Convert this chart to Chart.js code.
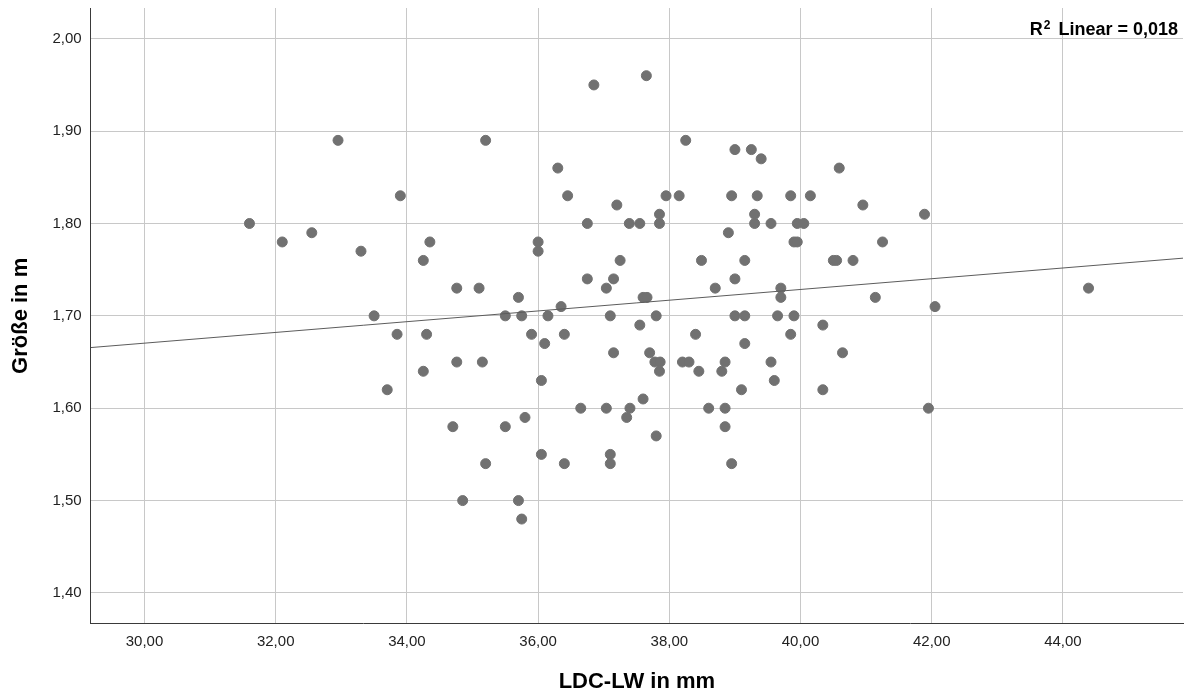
<!DOCTYPE html>
<html lang="de">
<head>
<meta charset="UTF-8">
<title>LDC-LW und Größe</title>
<script src="https://cdn.jsdelivr.net/npm/chart.js"></script>
<style>
  html, body { margin: 0; padding: 0; background: #fff; }
  canvas { display: block; }
</style>
</head>
<body>
<canvas id="scatter" width="1189" height="697"></canvas>
<script>
// LDC-LW (mm) and body height (m), one entry per subject
const ldcLw = [
  37.65,
  36.85,
  32.95, 35.20, 38.25,
  39.00, 39.25,
  39.40,
  36.30, 40.59,
  33.90, 36.45, 37.95, 38.15, 38.95, 39.34, 39.85, 40.15,
  37.20, 40.95,
  37.85, 39.30, 41.89,
  31.60, 36.75, 37.39, 37.55, 37.85, 39.30, 39.55, 39.95, 40.05,
  32.55, 38.90,
  32.10, 34.35, 36.00, 39.90, 39.95, 41.25,
  33.30, 36.00,
  34.25, 37.25, 38.49, 39.15, 40.50, 40.55, 40.80,
  36.75, 37.15, 39.00,
  34.76, 35.10, 37.04, 38.70, 39.70, 44.39,
  35.70, 37.60, 37.66, 39.70, 41.14,
  36.35, 42.05,
  33.50, 35.50, 35.75, 36.15, 37.10, 37.80, 39.00, 39.15, 39.65, 39.90,
  37.55, 40.34,
  33.85, 34.30, 35.90, 36.40, 38.40, 39.85,
  36.10, 39.15,
  37.15, 37.70, 40.64,
  34.76, 35.15, 37.78, 37.86, 38.20, 38.30, 38.85, 39.55,
  34.25, 37.85, 38.45, 38.80,
  36.05, 39.60,
  33.70, 39.10, 40.34,
  37.60,
  36.65, 37.04, 37.40, 38.60, 38.85, 41.95,
  35.80, 37.35,
  34.70, 35.50, 38.85,
  37.80,
  36.05, 37.10,
  35.20, 36.40, 37.10, 38.95,
  34.85, 35.70,
  35.75
];
const groesse = [
  1.96,
  1.95,
  1.89, 1.89, 1.89,
  1.88, 1.88,
  1.87,
  1.86, 1.86,
  1.83, 1.83, 1.83, 1.83, 1.83, 1.83, 1.83, 1.83,
  1.82, 1.82,
  1.81, 1.81, 1.81,
  1.80, 1.80, 1.80, 1.80, 1.80, 1.80, 1.80, 1.80, 1.80,
  1.79, 1.79,
  1.78, 1.78, 1.78, 1.78, 1.78, 1.78,
  1.77, 1.77,
  1.76, 1.76, 1.76, 1.76, 1.76, 1.76, 1.76,
  1.74, 1.74, 1.74,
  1.73, 1.73, 1.73, 1.73, 1.73, 1.73,
  1.72, 1.72, 1.72, 1.72, 1.72,
  1.71, 1.71,
  1.70, 1.70, 1.70, 1.70, 1.70, 1.70, 1.70, 1.70, 1.70, 1.70,
  1.69, 1.69,
  1.68, 1.68, 1.68, 1.68, 1.68, 1.68,
  1.67, 1.67,
  1.66, 1.66, 1.66,
  1.65, 1.65, 1.65, 1.65, 1.65, 1.65, 1.65, 1.65,
  1.64, 1.64, 1.64, 1.64,
  1.63, 1.63,
  1.62, 1.62, 1.62,
  1.61,
  1.60, 1.60, 1.60, 1.60, 1.60, 1.60,
  1.59, 1.59,
  1.58, 1.58, 1.58,
  1.57,
  1.55, 1.55,
  1.54, 1.54, 1.54, 1.54,
  1.50, 1.50,
  1.48
];

const xTicks = [30, 32, 34, 36, 38, 40, 42, 44];
const yTicks = [1.4, 1.5, 1.6, 1.7, 1.8, 1.9, 2.0];
const xRange = [29.18, 45.83];
const yRange = [1.3667, 2.0333];

// linear fit y = a + b*x
const fitIntercept = 1.496;
const fitSlope = 0.005814;
const rSquared = 0.018;

const fontFamily = "'Liberation Sans', Arial, sans-serif";
Chart.defaults.font.family = fontFamily;

const fmt = v => v.toFixed(2).replace('.', ',');

const points = ldcLw.map((x, i) => ({ x: x, y: groesse[i] }));
const fitLine = xRange.map(x => ({ x: x, y: fitIntercept + fitSlope * x }));

// "R² Linear = ..." in the top right corner of the plot
const r2Label = {
  id: 'r2Label',
  afterDraw(chart) {
    const { ctx, chartArea } = chart;
    const right = chartArea.right - 5;
    const base = chartArea.top + 27;
    const mainFont = 'bold 18px ' + fontFamily;
    const supFont = 'bold 12px ' + fontFamily;
    const tail = ' Linear = ' + rSquared.toFixed(3).replace('.', ',');
    ctx.save();
    ctx.fillStyle = '#000';
    ctx.textBaseline = 'alphabetic';
    ctx.textAlign = 'left';
    ctx.font = mainFont;
    const wR = ctx.measureText('R').width;
    const wTail = ctx.measureText(tail).width;
    ctx.font = supFont;
    const w2 = ctx.measureText('2').width;
    const x0 = right - wTail - w2 - wR - 4;
    ctx.font = mainFont;
    ctx.fillText('R', x0, base);
    ctx.font = supFont;
    ctx.fillText('2', x0 + wR + 1, base - 6);
    ctx.font = mainFont;
    ctx.fillText(tail, x0 + wR + w2 + 4, base);
    ctx.restore();
  }
};

new Chart(document.getElementById('scatter'), {
  type: 'scatter',
  data: {
    datasets: [
      {
        type: 'line',
        data: fitLine,
        borderColor: '#5c5c5c',
        borderWidth: 1,
        pointRadius: 0,
        fill: false,
        order: 0
      },
      {
        data: points,
        backgroundColor: '#717171',
        borderColor: '#717171',
        borderWidth: 1,
        pointRadius: 5,
        order: 1
      }
    ]
  },
  options: {
    responsive: false,
    animation: false,
    layout: { padding: { top: 8, right: 5, left: 0, bottom: 0 } },
    plugins: {
      legend: { display: false },
      tooltip: { enabled: false }
    },
    scales: {
      x: {
        type: 'linear',
        min: xRange[0],
        max: xRange[1],
        afterBuildTicks: s => { s.ticks = xTicks.map(v => ({ value: v })); },
        afterFit: s => { s.height = 73.3; s.paddingLeft = 0; s.paddingRight = 0; },
        grid: { color: '#c8c8c8', lineWidth: 1, drawTicks: false },
        border: { color: '#3a3a3a', width: 1 },
        ticks: {
          padding: 9,
          color: '#222',
          font: { size: 15 },
          autoSkip: false,
          maxRotation: 0,
          callback: v => fmt(v)
        },
        title: {
          display: true,
          text: 'LDC-LW in mm',
          color: '#000',
          font: { size: 22, weight: 'bold' },
          padding: { top: 0, bottom: 2 }
        }
      },
      y: {
        type: 'linear',
        min: yRange[0],
        max: yRange[1],
        afterBuildTicks: s => { s.ticks = yTicks.map(v => ({ value: v })); },
        afterFit: s => { s.width = 90.7; s.paddingTop = 0; s.paddingBottom = 0; },
        grid: { color: '#c8c8c8', lineWidth: 1, drawTicks: false },
        border: { color: '#3a3a3a', width: 1 },
        ticks: {
          padding: 9,
          color: '#222',
          font: { size: 15 },
          autoSkip: false,
          callback: v => fmt(v)
        },
        title: {
          display: true,
          text: 'Größe in m',
          color: '#000',
          font: { size: 22, weight: 'bold' },
          padding: { top: 8, bottom: 0 }
        }
      }
    }
  },
  plugins: [r2Label]
});
</script>
</body>
</html>
